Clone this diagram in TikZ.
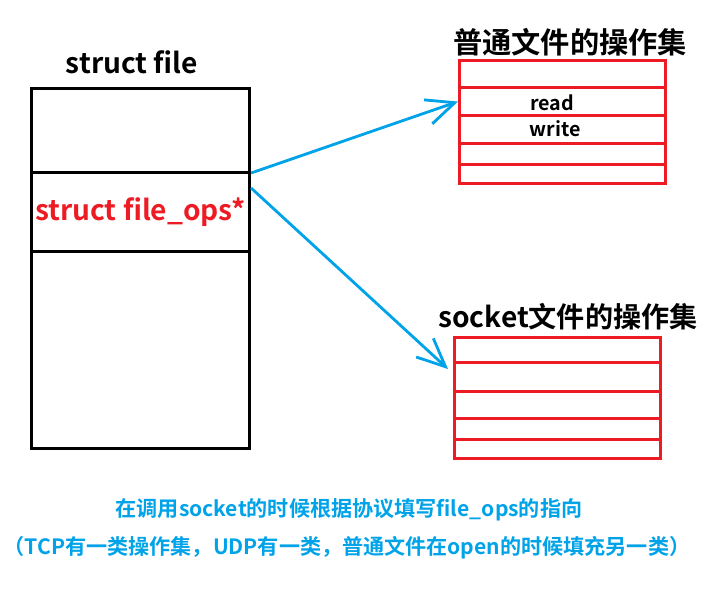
\documentclass[tikz,border=0pt]{standalone}
\usepackage{fontspec}
\setmainfont{Noto Sans CJK SC}[BoldFont={Noto Sans CJK SC Bold}]
\usetikzlibrary{arrows.meta, calc}
\definecolor{paintred}{HTML}{ED1C24}
\definecolor{paintblue}{HTML}{00A2E8}
\newcommand{\pxu}{0.025cm}

\begin{document}
\begin{tikzpicture}[x=\pxu, y=-\pxu, font=\bfseries,
    sect/.style={draw, line width=2.2pt, minimum width=218*\pxu, inner sep=0pt, anchor=north west},
    oprow/.style={draw=paintred, line width=2.2pt, minimum width=206*\pxu, inner sep=0pt, anchor=north west},
    ptr/.style={paintblue, line width=2pt, -{Straight Barb[length=20pt, width=18pt, line width=2pt]}}]
  \useasboundingbox (0,0) rectangle (728,592);
  % struct file
  \node (sftitle) at (132,62) {\fontsize{20}{24}\selectfont struct file};
  \node[sect, minimum height=84*\pxu] (sfhead) at (30,87) {};
  \node[sect, minimum height=79*\pxu, text=paintred, font=\bfseries\fontsize{20}{24}\selectfont] (ops) at (30,171) {struct file\_ops*};
  \node[sect, minimum height=197*\pxu] (sfrest) at (30,250) {};
  % normal file ops
  \node (ntitle) at (570,42) {\fontsize{20.8}{24}\selectfont 普通文件的操作集};
  \foreach \rowy/\rowh [count=\i] in {59/27, 86/28, 114/28, 142/21, 163/19}
    \node[oprow, minimum height=\rowh*\pxu] (nrow\i) at (458,\rowy) {};
  \node (rd) at (552,103) {\fontsize{14}{16}\selectfont read};
  \node (wr) at (555,129) {\fontsize{14}{16}\selectfont write};
  % socket ops
  \node (stitle) at (568,317) {\fontsize{20}{24}\selectfont socket文件的操作集};
  \foreach \rowy/\rowh [count=\i] in {336/25, 361/29, 390/27, 417/21, 438/19}
    \node[oprow, minimum height=\rowh*\pxu] (srow\i) at (453,\rowy) {};
  % pointers
  \coordinate (stip) at ($(srow2.west)+(-5,-8)$);
  \draw[ptr] ($(ops.north east)+(0,2)$) -- (nrow2.west);
  \draw[ptr] ($(ops.north east)+(0,17)$) -- (stip);
  % note
  \node[text=paintblue] (note1) at (349,510) {\fontsize{15}{18}\selectfont 在调用socket的时候根据协议填写file\_ops的指向};
  \node[text=paintblue] (note2) at (347,548) {\fontsize{15}{18}\selectfont （TCP有一类操作集，UDP有一类，普通文件在open的时候填充另一类）};
\end{tikzpicture}
\end{document}
